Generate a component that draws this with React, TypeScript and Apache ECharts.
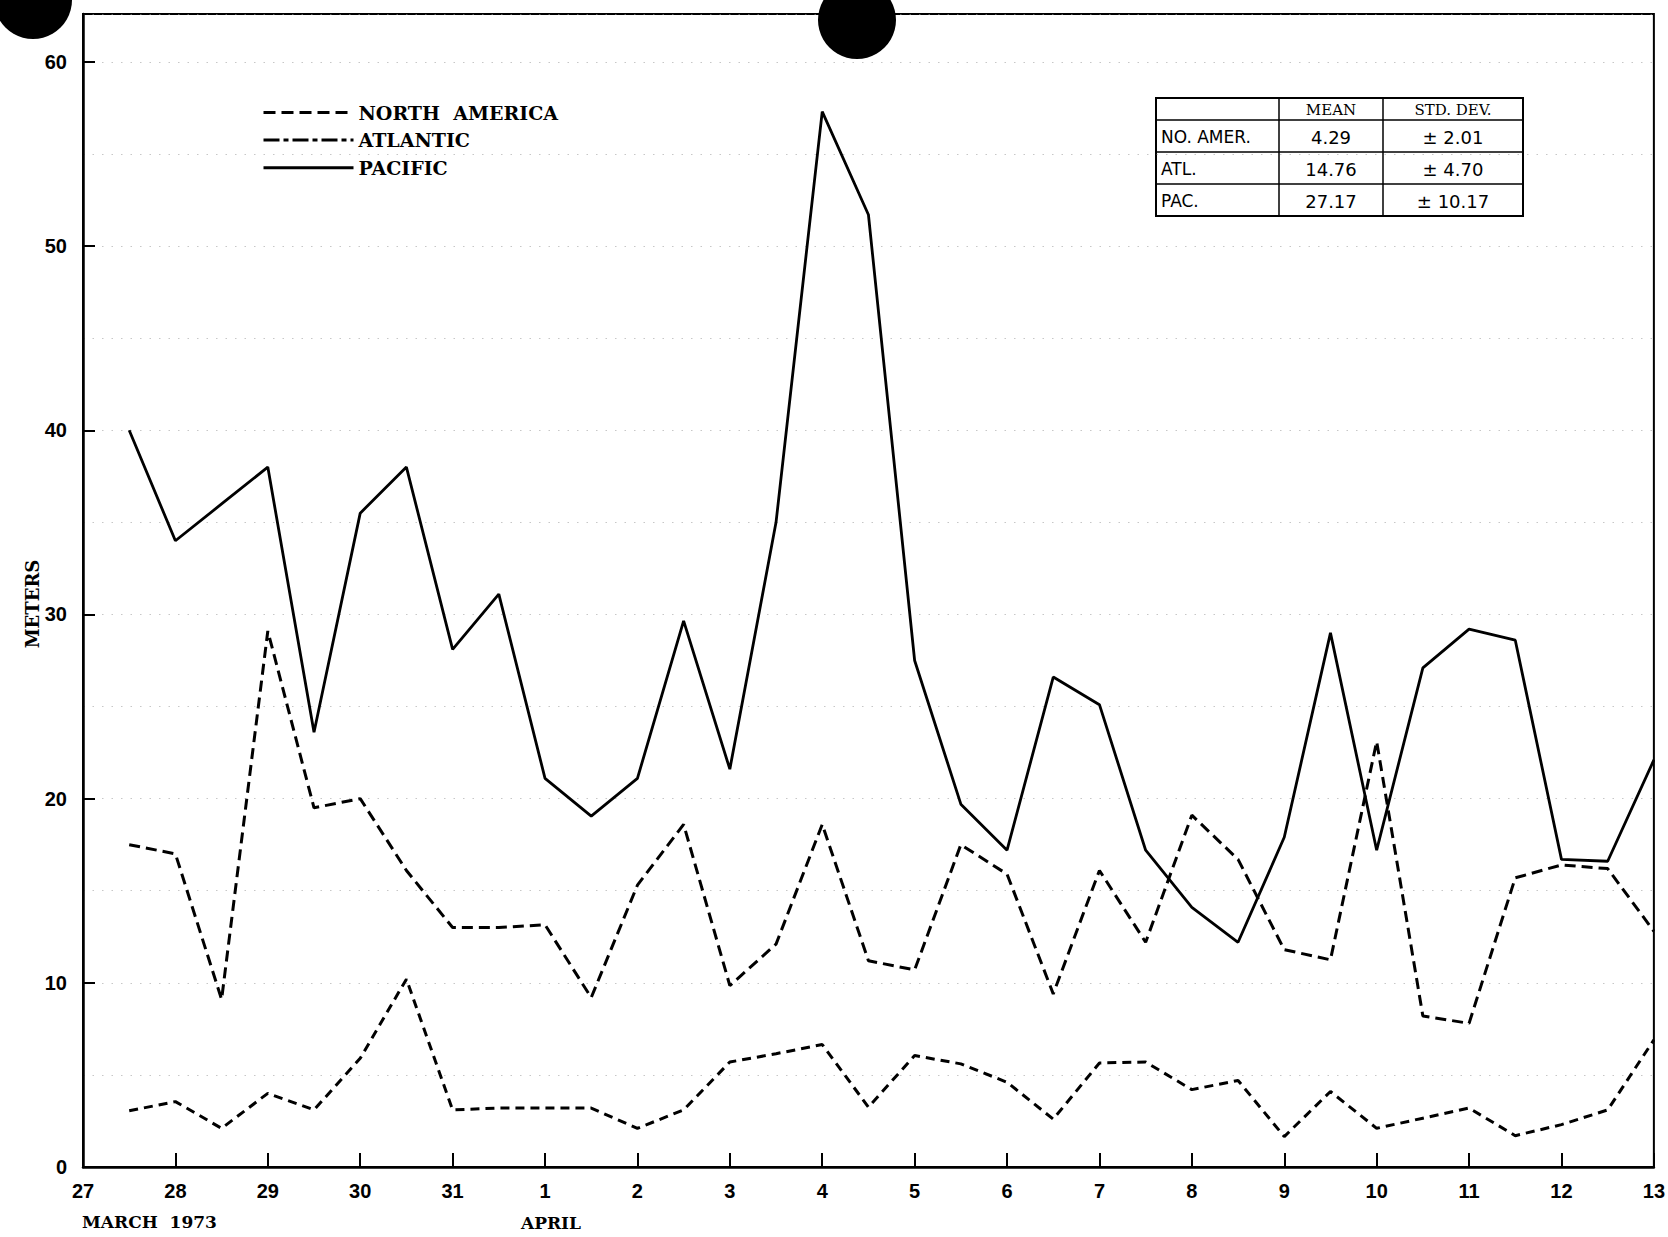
import React, { useEffect, useRef } from "react";
import * as echarts from "echarts";

// Day tick labels: index 0 = 27 March 1973 ... index 17 = 13 April 1973
const DAY_LABELS = ["27", "28", "29", "30", "31", "1", "2", "3", "4", "5", "6", "7", "8", "9", "10", "11", "12", "13"];

// Observation times (days after 27 March, 00Z), twice daily
const OBS_TIMES = [0.5, 1, 1.5, 2, 2.5, 3, 3.5, 4, 4.5, 5, 5.5, 6, 6.5, 7, 7.5, 8, 8.5, 9, 9.5, 10, 10.5, 11, 11.5, 12, 12.5, 13, 13.5, 14, 14.5, 15, 15.5, 16, 16.5, 17];

// Values in meters
const NORTH_AMERICA = [3.05, 3.55, 2.1, 4.0, 3.1, 5.9, 10.2, 3.1, 3.2, 3.2, 3.2, 2.1, 3.1, 5.7, 6.15, 6.65, 3.25, 6.05, 5.6, 4.6, 2.6, 5.65, 5.7, 4.2, 4.7, 1.65, 4.1, 2.1, 2.65, 3.2, 1.7, 2.3, 3.1, 6.9];
const ATLANTIC = [17.5, 17.0, 9.1, 29.1, 19.5, 20.0, 16.1, 13.0, 13.0, 13.15, 9.2, 15.3, 18.6, 9.85, 12.1, 18.6, 11.2, 10.7, 17.5, 15.9, 9.4, 16.1, 12.2, 19.1, 16.7, 11.8, 11.25, 23.1, 8.2, 7.8, 15.7, 16.4, 16.2, 12.8];
const PACIFIC = [40, 34, 36, 38, 23.6, 35.5, 38, 28.1, 31.1, 21.1, 19.05, 21.1, 29.65, 21.6, 35, 57.3, 51.7, 27.5, 19.7, 17.2, 26.6, 25.1, 17.2, 14.1, 12.2, 17.9, 29.0, 17.2, 27.1, 29.2, 28.6, 16.7, 16.6, 22.1];

const SERIES_NAMES = ["NORTH  AMERICA", "ATLANTIC", "PACIFIC"];

// Statistics table
const TABLE_HEADER = ["", "MEAN", "STD. DEV."];
const TABLE_REGIONS = ["NO. AMER.", "ATL.", "PAC."];
const TABLE_MEANS = ["4.29", "14.76", "27.17"];
const TABLE_STDS = ["\u00b1 2.01", "\u00b1 4.70", "\u00b1 10.17"];

const Y_AXIS_TITLE = "METERS";
const MONTH_LABELS = ["MARCH  1973", "APRIL"];

const SERIF = "'DejaVu Serif', 'Liberation Serif', serif";
const SANS = "'Liberation Sans', Arial, sans-serif";
const TABLE_SANS = "'DejaVu Sans', sans-serif";

export default function App() {
  const ref = useRef<HTMLDivElement>(null);

  useEffect(() => {
    if (!ref.current) return;
    const chart = echarts.init(ref.current, undefined, { renderer: "svg" });
    const pair = (ys: number[]) => OBS_TIMES.map((x, i) => [x, ys[i]]);

    // table geometry
    const colX = [1156, 1279, 1383, 1523];
    const rowY = [98, 120, 152, 184, 216];
    const tableEls: any[] = [
      {
        type: "rect",
        shape: { x: colX[0], y: rowY[0], width: colX[3] - colX[0], height: rowY[4] - rowY[0] },
        style: { fill: "#fff", stroke: "#000", lineWidth: 2 },
      },
    ];
    [colX[1], colX[2]].forEach((x) =>
      tableEls.push({ type: "line", shape: { x1: x, y1: rowY[0], x2: x, y2: rowY[4] }, style: { stroke: "#000", lineWidth: 1.5 } })
    );
    [rowY[1], rowY[2], rowY[3]].forEach((y) =>
      tableEls.push({ type: "line", shape: { x1: colX[0], y1: y, x2: colX[3], y2: y }, style: { stroke: "#000", lineWidth: 1.5 } })
    );
    TABLE_HEADER.forEach((h, c) => {
      if (!h) return;
      tableEls.push({
        type: "text",
        x: (colX[c] + colX[c + 1]) / 2,
        y: (rowY[0] + rowY[1]) / 2 + 1,
        style: { text: h, fontFamily: SERIF, fontSize: 15, fill: "#000", textAlign: "center", textVerticalAlign: "middle" },
      });
    });
    TABLE_REGIONS.forEach((r, i) => {
      const cy = (rowY[i + 1] + rowY[i + 2]) / 2 + 1;
      tableEls.push({
        type: "text",
        x: colX[0] + 5,
        y: cy,
        style: { text: r, fontFamily: TABLE_SANS, fontSize: 17, fill: "#000", textAlign: "left", textVerticalAlign: "middle" },
      });
      tableEls.push({
        type: "text",
        x: (colX[1] + colX[2]) / 2,
        y: cy,
        style: { text: TABLE_MEANS[i], fontFamily: TABLE_SANS, fontSize: 18, fill: "#000", textAlign: "center", textVerticalAlign: "middle" },
      });
      tableEls.push({
        type: "text",
        x: (colX[2] + colX[3]) / 2,
        y: cy,
        style: { text: TABLE_STDS[i], fontFamily: TABLE_SANS, fontSize: 18, fill: "#000", textAlign: "center", textVerticalAlign: "middle" },
      });
    });

    const hiddenSymbol = { opacity: 0, color: "transparent", borderWidth: 0 };

    const option: any = {
      animation: false,
      backgroundColor: "#fff",
      grid: {
        left: 83,
        right: 14,
        top: 14,
        bottom: 70,
        show: true,
        borderColor: "#000",
        borderWidth: 2,
        containLabel: false,
      },
      legend: {
        orient: "vertical",
        left: 257,
        top: 98,
        itemWidth: 90,
        itemHeight: 14,
        itemGap: 8.6,
        selectedMode: false,
        textStyle: { fontFamily: SERIF, fontWeight: "bold", fontSize: 19, color: "#000" },
        data: [
          { name: SERIES_NAMES[0], itemStyle: hiddenSymbol, lineStyle: { type: [12, 6], width: 3, color: "#000" } },
          { name: SERIES_NAMES[1], itemStyle: hiddenSymbol, lineStyle: { type: [16, 4, 5, 4], width: 3, color: "#000" } },
          { name: SERIES_NAMES[2], itemStyle: hiddenSymbol, lineStyle: { type: "solid", width: 3, color: "#000" } },
        ],
      },
      xAxis: {
        type: "value",
        min: 0,
        max: DAY_LABELS.length - 1,
        interval: 1,
        axisLine: { show: true, onZero: false, lineStyle: { color: "#000", width: 2.5 } },
        axisTick: { show: true, inside: true, length: 14, lineStyle: { color: "#000", width: 2 } },
        axisLabel: {
          show: true,
          margin: 14,
          showMinLabel: true,
          showMaxLabel: true,
          fontFamily: SANS,
          fontWeight: "bold",
          fontSize: 20,
          color: "#000",
          formatter: (v: number) => DAY_LABELS[Math.round(v)] ?? "",
        },
        splitLine: { show: false },
      },
      yAxis: {
        type: "value",
        min: 0,
        max: 62.6,
        interval: 10,
        axisLine: { show: true, onZero: false, lineStyle: { color: "#000", width: 2.5 } },
        axisTick: { show: true, inside: true, length: 12, lineStyle: { color: "#000", width: 2 } },
        axisLabel: {
          show: true,
          margin: 16,
          showMaxLabel: false,
          fontFamily: SANS,
          fontWeight: "bold",
          fontSize: 20,
          color: "#000",
          formatter: (v: number) => (v % 10 === 0 && v <= 60 ? String(v) : ""),
        },
        splitLine: { show: true, lineStyle: { type: [1.5, 8], color: "#999", width: 1.2, opacity: 0.55 } },
        minorTick: { show: false, splitNumber: 2 },
        minorSplitLine: { show: true, lineStyle: { type: [1.5, 8], color: "#999", width: 1.2, opacity: 0.55 } },
      },
      series: [
        {
          name: SERIES_NAMES[0],
          type: "line",
          data: pair(NORTH_AMERICA),
          symbol: "none",
          lineStyle: { type: [9, 6], width: 3, color: "#000" },
          itemStyle: { color: "#000" },
          z: 3,
        },
        {
          name: SERIES_NAMES[1],
          type: "line",
          data: pair(ATLANTIC),
          symbol: "none",
          lineStyle: { type: [11, 6], width: 3, color: "#000" },
          itemStyle: { color: "#000" },
          z: 3,
        },
        {
          name: SERIES_NAMES[2],
          type: "line",
          data: pair(PACIFIC),
          symbol: "none",
          lineStyle: { type: "solid", width: 2.8, color: "#000" },
          itemStyle: { color: "#000" },
          z: 4,
        },
      ],
      graphic: [
        {
          type: "text",
          x: 32,
          y: 604,
          rotation: Math.PI / 2,
          style: { text: Y_AXIS_TITLE, fontFamily: SERIF, fontWeight: "bold", fontSize: 18, fill: "#000", textAlign: "center", textVerticalAlign: "middle" },
        },
        {
          type: "text",
          x: 82,
          y: 1222,
          style: { text: MONTH_LABELS[0], fontFamily: SERIF, fontWeight: "bold", fontSize: 17, fill: "#000", textAlign: "left", textVerticalAlign: "middle" },
        },
        {
          type: "text",
          x: 521,
          y: 1223,
          style: { text: MONTH_LABELS[1], fontFamily: SERIF, fontWeight: "bold", fontSize: 17, fill: "#000", textAlign: "left", textVerticalAlign: "middle" },
        },
        { type: "group", z: 100, children: tableEls },
        // binder hole punches from the scanned page
        { type: "circle", z: 200, shape: { cx: 33, cy: 0, r: 39 }, style: { fill: "#000" } },
        { type: "circle", z: 200, shape: { cx: 857, cy: 20, r: 39 }, style: { fill: "#000" } },
      ],
    };

    chart.setOption(option);
    return () => chart.dispose();
  }, []);

  return (
    <div
      ref={ref}
      style={{ position: "absolute", left: 0, top: 0, width: 1668, height: 1237, background: "#fff" }}
    />
  );
}
